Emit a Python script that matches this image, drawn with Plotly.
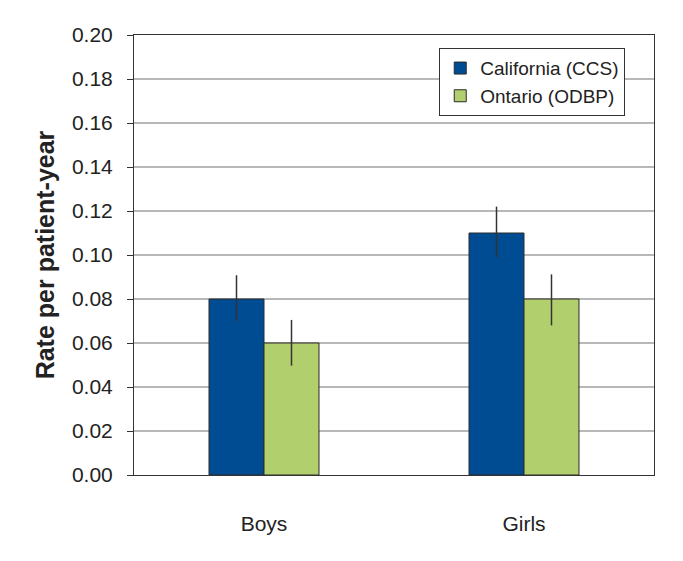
import plotly.graph_objects as go

categories = ["Boys", "Girls"]
california = [0.08, 0.11]
california_err_plus = [0.0108, 0.0120]
california_err_minus = [0.0100, 0.0110]
ontario = [0.06, 0.08]
ontario_err_plus = [0.0105, 0.0112]
ontario_err_minus = [0.0103, 0.0120]
y_ticks = [0.00, 0.02, 0.04, 0.06, 0.08, 0.10, 0.12, 0.14, 0.16, 0.18, 0.20]

fig = go.Figure()
fig.add_trace(go.Bar(
    x=categories, y=california, name="California (CCS)",
    marker=dict(color="#004C93", line=dict(color="#2a2a2a", width=1)),
    error_y=dict(type="data", symmetric=False, array=california_err_plus,
                 arrayminus=california_err_minus, color="#333333", thickness=1.5, width=0),
))
fig.add_trace(go.Bar(
    x=categories, y=ontario, name="Ontario (ODBP)",
    marker=dict(color="#B2CF6E", line=dict(color="#2a2a2a", width=1)),
    error_y=dict(type="data", symmetric=False, array=ontario_err_plus,
                 arrayminus=ontario_err_minus, color="#333333", thickness=1.5, width=0),
))

fig.update_layout(
    width=675, height=553,
    margin=dict(l=126, r=29, t=27, b=86),
    paper_bgcolor="white", plot_bgcolor="white",
    barmode="group", bargap=0.577, bargroupgap=0,
    font=dict(family="Liberation Sans, Arial, sans-serif", size=20, color="#222222"),
    showlegend=True,
    legend=dict(
        x=0.587, y=0.97, xanchor="left", yanchor="top",
        bordercolor="#333333", borderwidth=1, bgcolor="white",
        font=dict(size=19), itemwidth=30, tracegroupgap=0,
    ),
)
fig.update_xaxes(
    showline=True, linecolor="#333333", linewidth=1, mirror=True,
    ticks="", showgrid=False, ticklabelstandoff=30,
    tickfont=dict(size=21),
)
fig.update_yaxes(
    range=[0, 0.2], tickvals=y_ticks, tickformat=".2f",
    showline=True, linecolor="#333333", linewidth=1, mirror=True,
    ticks="outside", ticklen=6, tickcolor="#333333",
    showgrid=True, gridcolor="#b8b8b8", gridwidth=1.5,
    tickfont=dict(size=21), ticklabelstandoff=10,
    title=dict(text="<b>Rate per patient-year</b>", font=dict(size=25), standoff=10),
    zeroline=False,
)

fig.write_html("out.html")
